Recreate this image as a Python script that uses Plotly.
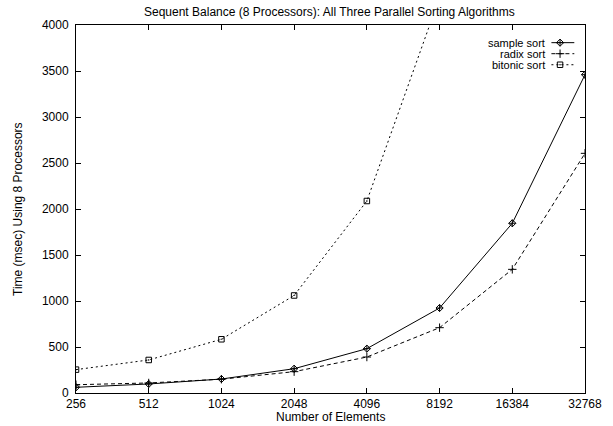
import plotly.graph_objects as go

elements = [256, 512, 1024, 2048, 4096, 8192, 16384, 32768]
tick_labels = ["256", "512", "1024", "2048", "4096", "8192", "16384", "32768"]
sample_sort = [62, 98, 152, 264, 482, 924, 1845, 3460]
radix_sort = [90, 109, 150, 232, 391, 710, 1344, 2605]
bitonic_sort = [254, 359, 584, 1060, 2087, 4300]
bitonic_x = elements[:6]

series = [
    ("sample sort", elements, sample_sort, "solid", "diamond-cross-open", 5.5),
    ("radix sort", elements, radix_sort, "4px,3px", "cross-thin-open", 6),
    ("bitonic sort", bitonic_x, bitonic_sort, "2px,3px", "square-open-dot", 5.5),
]

FONT = "Liberation Sans, Arial, Helvetica, sans-serif"

fig = go.Figure()
for name, xs, ys, dash, sym, ms in series:
    fig.add_trace(go.Scatter(
        x=xs, y=ys, name=name, mode="lines+markers",
        line=dict(color="black", width=1, dash=dash),
        marker=dict(symbol=sym, size=ms, color="black", line=dict(color="black", width=1)),
        cliponaxis=True, showlegend=False))

# custom gnuplot-style key (text left of sample)
key_rows = [0.952, 0.922, 0.892]
for (name, xs, ys, dash, sym, ms), ky in zip(series, key_rows):
    fig.add_trace(go.Scatter(
        x=[0.934, 0.979], y=[ky, ky], xaxis="x2", yaxis="y2", mode="lines",
        line=dict(color="black", width=1, dash=dash), showlegend=False, hoverinfo="skip"))
    fig.add_trace(go.Scatter(
        x=[0.951], y=[ky], xaxis="x2", yaxis="y2", mode="markers",
        marker=dict(symbol=sym, size=ms, color="black", line=dict(color="black", width=1)),
        showlegend=False, hoverinfo="skip"))
    fig.add_annotation(x=0.925, y=ky, xref="paper", yref="paper", text=name,
                       showarrow=False, xanchor="right", yanchor="middle",
                       font=dict(family=FONT, size=11, color="black"))

# title and axis titles as annotations (fixed positions like gnuplot)
fig.add_annotation(x=0.499, y=1.035, xref="paper", yref="paper",
                   text="Sequent Balance (8 Processors): All Three Parallel Sorting Algorithms",
                   showarrow=False, xanchor="center", yanchor="middle",
                   font=dict(family=FONT, size=12, color="black"))
fig.add_annotation(x=0.5, y=-0.0655, xref="paper", yref="paper", text="Number of Elements",
                   showarrow=False, xanchor="center", yanchor="middle",
                   font=dict(family=FONT, size=12, color="black"))
fig.add_annotation(x=-0.114, y=0.5, xref="paper", yref="paper",
                   text="Time (msec) Using 8 Processors", textangle=-90,
                   showarrow=False, xanchor="center", yanchor="middle",
                   font=dict(family=FONT, size=12, color="black"))

axis_common = dict(showline=True, linecolor="black", linewidth=1, mirror="ticks",
                   ticks="inside", ticklen=5, tickcolor="black", showgrid=False,
                   zeroline=False, automargin=False,
                   tickfont=dict(family=FONT, size=12, color="black"))

fig.update_layout(
    width=613, height=426,
    margin=dict(l=76, r=28, t=25, b=33, autoexpand=False),
    paper_bgcolor="white", plot_bgcolor="white",
    xaxis=dict(type="log", range=[2.40824, 4.51545], tickvals=elements, ticktext=tick_labels,
               ticklabelstandoff=0, **axis_common),
    yaxis=dict(range=[0, 4000], dtick=500, tick0=0, ticklabelstandoff=4, **axis_common),
    xaxis2=dict(range=[0, 1], overlaying="x", visible=False, fixedrange=True),
    yaxis2=dict(range=[0, 1], overlaying="y", visible=False, fixedrange=True),
    showlegend=False,
)

fig.write_html("out.html")
